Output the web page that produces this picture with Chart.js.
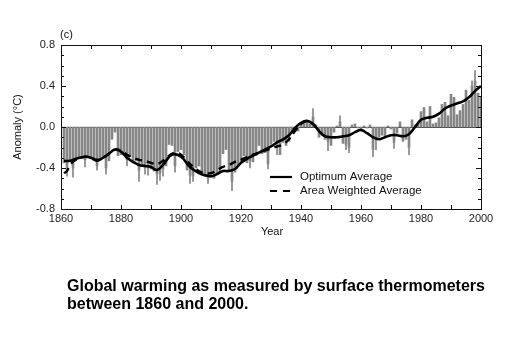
<!DOCTYPE html>
<html>
<head>
<meta charset="utf-8">
<script src="https://cdn.jsdelivr.net/npm/chart.js@4.4.0/dist/chart.umd.min.js"></script>
<style>
  html, body { margin: 0; padding: 0; background: #fff; }
  #wrap { width: 519px; height: 344px; }
</style>
</head>
<body>
<div id="wrap"><canvas id="chart" width="519" height="344"></canvas></div>
<script>
// Annual anomalies, one per year starting at firstYear
const firstYear = 1861;
const anomalies = [
  -0.35, -0.42, -0.33, -0.40, -0.30, -0.31, -0.29, -0.32, -0.28, -0.31,
  -0.33, -0.38, -0.32, -0.30, -0.40, -0.33, -0.12, -0.05, -0.28, -0.27,
  -0.25, -0.32, -0.29, -0.35, -0.33, -0.42, -0.36, -0.38, -0.40, -0.41,
  -0.43, -0.46, -0.45, -0.41, -0.38, -0.17, -0.18, -0.38, -0.24, -0.22,
  -0.27, -0.42, -0.47, -0.48, -0.40, -0.38, -0.47, -0.48, -0.50, -0.49,
  -0.50, -0.46, -0.44, -0.26, -0.22, -0.43, -0.53, -0.44, -0.38, -0.34,
  -0.28, -0.35, -0.33, -0.34, -0.28, -0.18, -0.26, -0.25, -0.36, -0.17,
  -0.14, -0.20, -0.27, -0.15, -0.18, -0.14, -0.05, -0.02, -0.04, 0.04,
  0.06, 0.05, 0.03, 0.10, 0.02, -0.10, -0.08, -0.12, -0.14, -0.18,
  -0.05, 0.01, 0.05, -0.16, -0.17, -0.20, 0.02, 0.03, -0.01, -0.04,
  0.01, -0.01, 0.02, -0.22, -0.13, -0.10, -0.08, -0.10, 0.01, -0.02,
  -0.15, -0.06, 0.05, -0.14, -0.12, -0.20, 0.07, 0.02, 0.03, 0.15,
  0.19, 0.05, 0.20, 0.03, 0.04, 0.09, 0.22, 0.24, 0.11, 0.32,
  0.29, 0.12, 0.16, 0.22, 0.36, 0.26, 0.40, 0.45, 0.33, 0.30
];

// Visible error bar ends (only the ones sticking out past the bar)
const whiskerYears = [1862, 1864, 1868, 1872, 1875, 1882, 1886, 1888, 1889, 1892, 1893, 1894, 1898,
  1903, 1904, 1909, 1917, 1923, 1929, 1932, 1944, 1949, 1953, 1955, 1956, 1964, 1965, 1971, 1976, 1997, 1998];
const whiskerEnds = [-0.48, -0.49, -0.39, -0.42, -0.46, -0.38, -0.53, -0.46, -0.47, -0.56, -0.52, -0.48, -0.44,
  -0.55, -0.53, -0.55, -0.62, -0.40, -0.41, -0.27, 0.18, -0.23, 0.11, -0.22, -0.25, -0.29, -0.22, -0.21, -0.27, 0.45, 0.55];

// Smoothed curves
const optYears = [1861, 1863, 1865, 1868, 1870, 1872, 1874, 1876, 1878, 1880, 1882, 1884, 1886, 1888, 1890,
  1892, 1894, 1897, 1900, 1903, 1906, 1908, 1910, 1912, 1914, 1916, 1918, 1920, 1922, 1924, 1926, 1928, 1930,
  1932, 1934, 1936, 1938, 1940, 1942, 1944, 1946, 1948, 1950, 1952, 1954, 1956, 1958, 1960, 1962, 1964, 1966,
  1968, 1970, 1972, 1974, 1976, 1978, 1980, 1982, 1984, 1986, 1988, 1990, 1992, 1994, 1996, 1998, 2000];
const optValues = [-0.33, -0.33, -0.31, -0.29, -0.30, -0.33, -0.30, -0.26, -0.22, -0.24, -0.30, -0.34, -0.37, -0.38, -0.39,
  -0.42, -0.37, -0.27, -0.29, -0.39, -0.45, -0.47, -0.48, -0.46, -0.43, -0.43, -0.41, -0.35, -0.31, -0.28, -0.25, -0.22, -0.19,
  -0.15, -0.12, -0.08, -0.01, 0.04, 0.06, 0.03, -0.04, -0.09, -0.10, -0.10, -0.09, -0.08, -0.05, -0.03, -0.06, -0.10, -0.12,
  -0.10, -0.08, -0.08, -0.09, -0.07, 0.00, 0.07, 0.09, 0.10, 0.13, 0.18, 0.21, 0.23, 0.25, 0.29, 0.35, 0.40];

const areaYears = [1861, 1862, 1863, 1865, 1868, 1870, 1872, 1874, 1876, 1878, 1880, 1882, 1884, 1886, 1888, 1890,
  1892, 1894, 1896, 1898, 1900, 1902, 1904, 1906, 1908, 1910, 1912, 1914, 1916, 1918, 1920, 1922, 1924, 1926,
  1928, 1930, 1932, 1934, 1936, 1938, 1940, 1942, 1944, 1946];
const areaValues = [-0.45, -0.43, -0.37, -0.32, -0.29, -0.30, -0.32, -0.30, -0.26, -0.22, -0.23, -0.27, -0.30, -0.32, -0.33, -0.35,
  -0.36, -0.33, -0.28, -0.25, -0.27, -0.33, -0.39, -0.43, -0.45, -0.45, -0.42, -0.39, -0.37, -0.34, -0.32, -0.29, -0.27, -0.25,
  -0.23, -0.21, -0.19, -0.17, -0.12, -0.04, 0.03, 0.06, 0.03, -0.04];

const barColor = '#868686';
const fontFam = '"Liberation Sans", Arial, sans-serif';

// Inward ticks, frame, zero line, legend and text
const decor = {
  id: 'decor',
  beforeDatasetsDraw(chart) {
    const { ctx, chartArea: a, scales: { y } } = chart;
    ctx.save();
    ctx.strokeStyle = '#444';
    ctx.lineWidth = 1;
    const y0 = Math.round(y.getPixelForValue(0)) + 0.5;
    ctx.beginPath(); ctx.moveTo(a.left, y0); ctx.lineTo(a.right, y0); ctx.stroke();
    ctx.restore();
  },
  afterDraw(chart) {
    const { ctx, chartArea: a, scales: { x, y } } = chart;
    ctx.save();
    ctx.strokeStyle = '#111';
    ctx.lineWidth = 1;
    ctx.strokeRect(a.left + 0.5, a.top + 0.5, a.right - a.left, a.bottom - a.top);
    ctx.beginPath();
    for (let i = -8; i <= 8; i++) {
      const py = Math.round(y.getPixelForValue(i / 10)) + 0.5;
      const len = i % 4 === 0 ? 5 : 3;
      ctx.moveTo(a.left, py); ctx.lineTo(a.left + len, py);
      ctx.moveTo(a.right, py); ctx.lineTo(a.right - len, py);
    }
    for (let yr = 1870; yr < 2000; yr += 10) {
      const px = Math.round(x.getPixelForValue(yr)) + 0.5;
      ctx.moveTo(px, a.bottom); ctx.lineTo(px, a.bottom - 4);
      ctx.moveTo(px, a.top); ctx.lineTo(px, a.top + 4);
    }
    ctx.stroke();

    // legend
    ctx.lineWidth = 2.2;
    ctx.strokeStyle = '#000';
    ctx.beginPath(); ctx.moveTo(270, 177); ctx.lineTo(292, 177); ctx.stroke();
    ctx.setLineDash([7, 6]);
    ctx.beginPath(); ctx.moveTo(270, 191); ctx.lineTo(292, 191); ctx.stroke();
    ctx.setLineDash([]);
    ctx.fillStyle = '#111';
    ctx.font = '11.5px ' + fontFam;
    ctx.textBaseline = 'middle';
    ctx.textAlign = 'left';
    ctx.fillText('Optimum Average', 300, 177);
    ctx.fillText('Area Weighted Average', 300, 191);

    // labels
    ctx.font = '11px ' + fontFam;
    ctx.fillText('(c)', 60, 35);
    ctx.textAlign = 'center';
    ctx.fillText('Year', 272, 232);
    ctx.save();
    ctx.translate(18, 127);
    ctx.rotate(-Math.PI / 2);
    ctx.fillText('Anomaly (\u00B0C)', 0, 0);
    ctx.restore();

    // caption
    ctx.fillStyle = '#000';
    ctx.textAlign = 'left';
    ctx.textBaseline = 'alphabetic';
    ctx.font = 'bold 16px ' + fontFam;
    ctx.fillText('Global warming as measured by surface thermometers', 67, 291);
    ctx.fillText('between 1860 and 2000.', 67, 309);
    ctx.restore();
  }
};

const chart = new Chart(document.getElementById('chart'), {
  type: 'bar',
  data: {
    datasets: [
      { type: 'line', data: optYears.map((yr, i) => ({ x: yr, y: optValues[i] })), borderColor: '#000', borderWidth: 2.6, pointRadius: 0, tension: 0.4, order: 0 },
      { type: 'line', data: areaYears.map((yr, i) => ({ x: yr, y: areaValues[i] })), borderColor: '#000', borderWidth: 2.4, borderDash: [7, 5], pointRadius: 0, tension: 0.4, order: 1 },
      { type: 'bar', data: whiskerYears.map((yr, k) => ({ x: yr, y: [anomalies[yr - firstYear], whiskerEnds[k]] })), backgroundColor: barColor, barThickness: 1, grouped: false, order: 2 },
      { type: 'bar', data: anomalies.map((v, i) => ({ x: firstYear + i, y: v })), backgroundColor: barColor, barThickness: 2, grouped: false, order: 3 }
    ]
  },
  options: {
    responsive: false,
    animation: false,
    devicePixelRatio: 1,
    layout: { padding: { top: 45, right: 38, left: 0, bottom: 0 } },
    plugins: { legend: { display: false }, tooltip: { enabled: false } },
    scales: {
      x: {
        type: 'linear', min: 1860, max: 2000, offset: false,
        grid: { display: false, drawTicks: false }, border: { display: false },
        ticks: { stepSize: 20, autoSkip: false, maxRotation: 0, padding: 3, color: '#222', font: { size: 11, family: fontFam }, callback: v => String(v) },
        afterFit: s => { s.height = 135; }
      },
      y: {
        min: -0.8, max: 0.8,
        grid: { display: false, drawTicks: false }, border: { display: false },
        ticks: { stepSize: 0.4, padding: 6, color: '#222', font: { size: 11, family: fontFam }, callback: v => v.toFixed(1) },
        afterFit: s => { s.width = 61; }
      }
    }
  },
  plugins: [decor]
});
</script>
</body>
</html>
